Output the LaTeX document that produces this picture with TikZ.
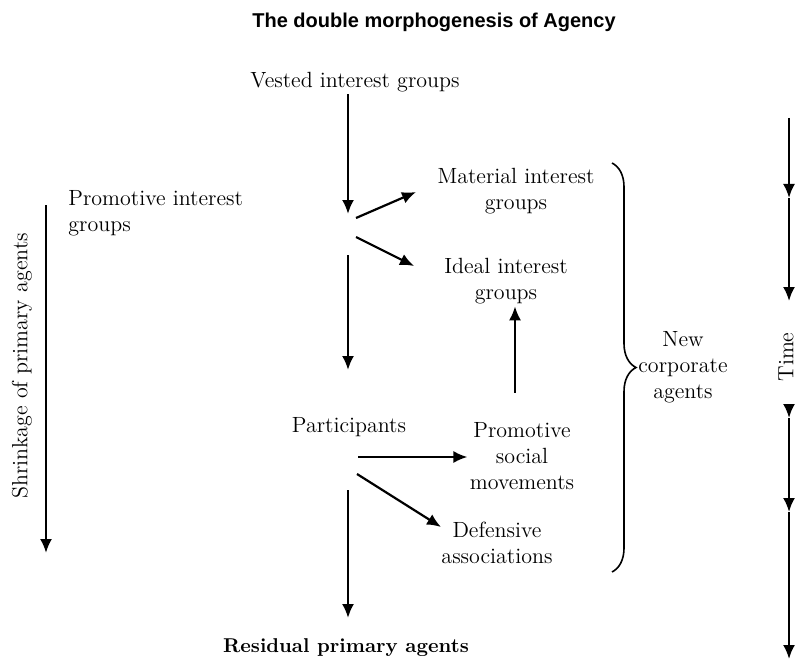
\documentclass[tikz,border=0pt]{standalone}
\usepackage{fontspec}
\newfontfamily\titlefont{Liberation Sans}
\usetikzlibrary{arrows.meta,decorations.pathreplacing}
\tikzstyle{lbl}=[align=center,inner sep=1pt,font=\fontsize{11}{13}\selectfont]
\tikzstyle{flow}=[-{Latex[length=7pt,width=6pt]},line width=1.1pt]
\def\timex{789}

\begin{document}
\begin{tikzpicture}[x=0.5pt,y=-0.5pt]
\useasboundingbox (0,0) rectangle (796,663);
\node[font=\titlefont\bfseries\fontsize{10}{12}\selectfont] (title) at (434,22) {The double morphogenesis of Agency};

% centre column
\node[lbl] (vested) at (355,82) {Vested interest groups};
\node[lbl,align=left,anchor=west] (promo) at (66,213) {Promotive interest\\groups};
\node[lbl] (material) at (516,191) {Material interest\\groups};
\node[lbl] (ideal) at (506,281) {Ideal interest\\groups};
\node[lbl] (partic) at (349,427) {Participants};
\node[lbl] (psm) at (522,456) {Promotive\\social\\movements};
\node[lbl] (defens) at (497,543) {Defensive\\associations};
\node[lbl,font=\fontsize{10}{12}\selectfont\bfseries] (residual) at (346,648) {Residual primary agents};

\coordinate (s1) at (348,214);
\coordinate (s2) at (348,255);
\coordinate (s3) at (348,370);
\coordinate (s4) at (348,490);
\coordinate (s5) at (348,618);
\coordinate (m0) at (356,218);
\coordinate (m1) at (416,192);
\coordinate (i0) at (356,237);
\coordinate (i1) at (414,266);
\coordinate (p0) at (358,457);
\coordinate (d0) at (357,474);
\coordinate (d1) at (441,527);

\draw[flow] (vested.south -| s1) -- (s1);
\draw[flow] (m0) -- (m1);
\draw[flow] (i0) -- (i1);
\draw[flow] (s2) -- (s3);
\draw[flow] (psm.north) ++(-7,-27) coordinate (u0) -- (ideal.south -| u0) coordinate (u1);
\draw[flow] (p0) -- (p0 -| psm.west);
\draw[flow] (d0) -- (d1);
\draw[flow] (s4) -- (s5);

% brace
\coordinate (b1) at (612,163);
\coordinate (b2) at (612,572);
\draw[line width=0.8pt,decorate,decoration={brace,amplitude=12pt}] (b1) -- (b2);
\node[lbl] (newcorp) at (683,367) {New\\corporate\\agents};

% left axis
\node[lbl,rotate=90] (shrink) at (22,366) {Shrinkage of primary agents};
\coordinate (k0) at (46,205);
\coordinate (k1) at (46,553);
\draw[flow] (k0) -- (k1);

% time axis
\node[lbl,rotate=90,inner sep=0pt] (time) at (786,357) {Time};
\coordinate (t0) at (\timex,118);
\coordinate (t1) at (\timex,198);
\coordinate (t2) at (\timex,301);
\coordinate (t3) at (\timex,404);
\coordinate (t4) at (\timex,418);
\coordinate (t5) at (\timex,512);
\coordinate (t6) at (\timex,659);
\draw[flow] (t0) -- (t1);
\draw[flow] (t1) -- (t2);
\draw[flow] (t3) -- (t4);
\draw[flow] (t4) -- (t5);
\draw[flow] (t5) -- (t6);
\end{tikzpicture}
\end{document}
